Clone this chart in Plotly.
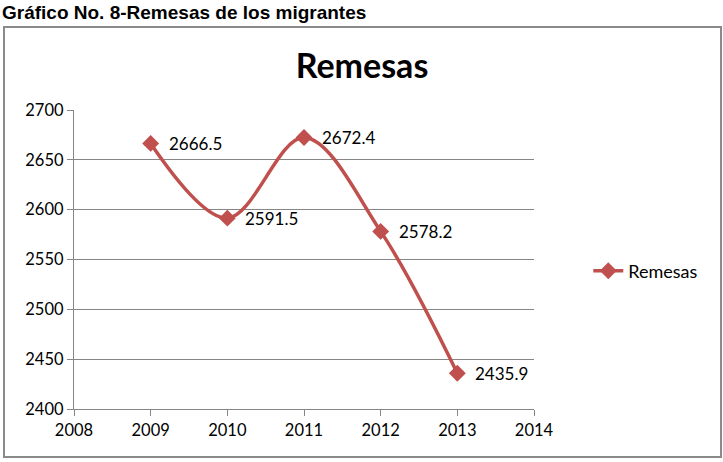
import plotly.graph_objects as go

years = [2009, 2010, 2011, 2012, 2013]
remesas = [2666.5, 2591.5, 2672.4, 2578.2, 2435.9]
labels = ["2666.5", "2591.5", "2672.4", "2578.2", "2435.9"]
x_ticks = [2008, 2009, 2010, 2011, 2012, 2013, 2014]
y_ticks = [2400, 2450, 2500, 2550, 2600, 2650, 2700]

RED = "#C0504D"
FONT = "Lato"

fig = go.Figure()
fig.add_trace(go.Scatter(
    x=years, y=remesas, mode="lines+markers", name="Remesas",
    line=dict(color=RED, width=3.5, shape="spline", smoothing=1.0),
    marker=dict(symbol="diamond", size=13, color=RED),
))
for xv, yv, t in zip(years, remesas, labels):
    fig.add_annotation(x=xv, y=yv, text=t, showarrow=False, xanchor="left",
                       yanchor="middle", xshift=16, font=dict(family=FONT, size=17, color="#000"))

fig.update_layout(
    width=723, height=462,
    margin=dict(l=74, r=189, t=110, b=53),
    paper_bgcolor="white", plot_bgcolor="white",
    showlegend=True,
    legend=dict(x=1.118, y=0.4615, xanchor="left", yanchor="middle",
                font=dict(family=FONT, size=18, color="#000"), bgcolor="rgba(0,0,0,0)"),
    title=dict(text="<b>Remesas</b>", x=(362) / 723, xanchor="center", y=1 - 66 / 462, yanchor="middle",
               font=dict(family=FONT, size=34, color="#000")),
    xaxis=dict(range=[2008, 2014], tickvals=x_ticks, showgrid=False, zeroline=False,
               showline=True, linecolor="#868686", linewidth=1.3,
               ticks="outside", ticklen=6, tickcolor="#868686",
               tickfont=dict(family=FONT, size=16.5, color="#000")),
    yaxis=dict(range=[2400, 2700], tickvals=y_ticks, showgrid=True, gridcolor="#868686", gridwidth=1.3,
               zeroline=False, showline=True, linecolor="#868686", linewidth=1.3,
               ticks="outside", ticklen=6, tickcolor="#868686",
               tickfont=dict(family=FONT, size=16.5, color="#000")),
)

# outer chart border
fig.add_shape(type="rect", xref="paper", yref="paper",
              x0=(4 - 74) / 460, x1=(721 - 74) / 460,
              y0=(409 - 457) / 299, y1=(409 - 27) / 299,
              line=dict(color="#8a8a8a", width=2), fillcolor="rgba(0,0,0,0)", layer="below")

fig.add_annotation(xref="paper", yref="paper", x=(0 - 74) / 460, y=(409 - 12) / 299,
                   xanchor="left", yanchor="middle", showarrow=False,
                   text="<b>Gráfico No. 8-Remesas de los migrantes</b>",
                   font=dict(family="Liberation Sans", size=19, color="#000"))

fig.write_html("out.html")
